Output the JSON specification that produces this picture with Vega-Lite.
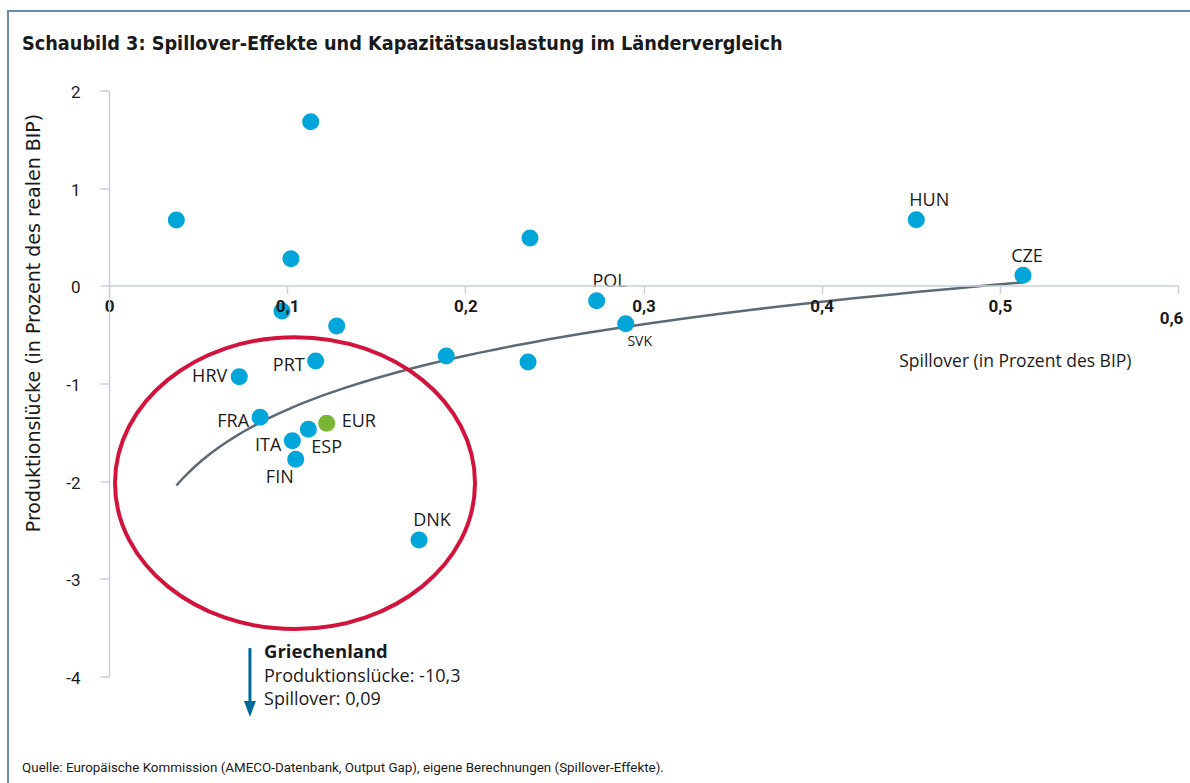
{
  "$schema": "https://vega.github.io/schema/vega-lite/v6.json",
  "width": 1069,
  "height": 586,
  "autosize": {"type": "none"},
  "padding": {"left": 109, "top": 90.5, "right": 12, "bottom": 106.5},
  "background": "white",
  "config": {"view": {"stroke": null}, "font": "Roboto"},
  "title": {
    "text": "Schaubild 3: Spillover-Effekte und Kapazitätsauslastung im Ländervergleich",
    "anchor": "start",
    "frame": "group",
    "dx": -87,
    "dy": 21,
    "offset": -39,
    "baseline": "alphabetic",
    "font": "DejaVu Sans Condensed, Roboto",
    "fontSize": 19.7,
    "fontWeight": "bold",
    "color": "#1a1a1a"
  },
  "datasets": {
    "laender": [
      {"land": "", "x": 0.0378, "y": 0.674},
      {"land": "", "x": 0.1132, "y": 1.681},
      {"land": "", "x": 0.1021, "y": 0.278},
      {"land": "", "x": 0.0971, "y": -0.258},
      {"land": "", "x": 0.1278, "y": -0.411},
      {"land": "", "x": 0.2363, "y": 0.49},
      {"land": "", "x": 0.1893, "y": -0.718},
      {"land": "", "x": 0.2352, "y": -0.78},
      {"land": "POL", "x": 0.2737, "y": -0.152},
      {"land": "SVK", "x": 0.29, "y": -0.388},
      {"land": "HUN", "x": 0.4531, "y": 0.677},
      {"land": "CZE", "x": 0.513, "y": 0.108},
      {"land": "HRV", "x": 0.0731, "y": -0.93},
      {"land": "PRT", "x": 0.116, "y": -0.77},
      {"land": "FRA", "x": 0.0848, "y": -1.346},
      {"land": "EUR", "x": 0.1222, "y": -1.407},
      {"land": "ESP", "x": 0.1119, "y": -1.469},
      {"land": "ITA", "x": 0.1029, "y": -1.586},
      {"land": "FIN", "x": 0.1048, "y": -1.776},
      {"land": "DNK", "x": 0.174, "y": -2.602},
      {"land": "GRC", "x": 0.09, "y": -10.3}
    ]
  },
  "layer": [
    {
      "data": {"values": [{"x": -0.0567, "x2": 0.75, "y": 2.814, "y2": -6}]},
      "mark": {"type": "rect", "fillOpacity": 0, "stroke": "#6b8aa5", "strokeWidth": 2, "clip": false},
      "encoding": {
        "x": {"field": "x", "type": "quantitative", "scale": {"domain": [0, 0.6], "nice": false, "zero": false}},
        "x2": {"field": "x2"},
        "y": {"field": "y", "type": "quantitative", "scale": {"domain": [-4, 2], "nice": false, "zero": false}},
        "y2": {"field": "y2"}
      }
    },
    {
      "data": {"name": "laender"},
      "transform": [
        {"filter": "datum.land != 'EUR'"},
        {"regression": "y", "on": "x", "method": "log"}
      ],
      "mark": {"type": "line", "stroke": "#5d6a74", "strokeWidth": 2.5},
      "encoding": {
        "x": {"field": "x", "type": "quantitative"},
        "y": {"field": "y", "type": "quantitative"}
      }
    },
    {
      "data": {"values": [{"x": 0.1044, "y": -2.02}]},
      "mark": {"type": "point", "shape": "M-1,0A1,0.811,0,1,1,1,0A1,0.811,0,1,1,-1,0Z", "size": 129600, "filled": false, "color": "#d2143c", "strokeWidth": 4, "opacity": 1, "clip": false},
      "encoding": {
        "x": {"field": "x", "type": "quantitative"},
        "y": {"field": "y", "type": "quantitative"}
      }
    },
    {
      "data": {"name": "laender"},
      "transform": [{"filter": "datum.land != 'GRC'"}],
      "mark": {"type": "circle", "size": 290, "opacity": 1},
      "encoding": {
        "x": {
          "field": "x", "type": "quantitative",
          "axis": {
            "orient": "bottom",
            "offset": -391,
            "values": [0, 0.1, 0.2, 0.3, 0.4, 0.5, 0.6],
            "labelExpr": "replace(format(datum.value, '.1~f'), '.', ',')",
            "grid": false,
            "zindex": 1,
            "domainColor": "#c9d0d7",
            "domainWidth": 1.5,
            "tickColor": "#c9d0d7",
            "tickWidth": 1.5,
            "tickSize": 8,
            "labelFontSize": 17,
            "labelFontWeight": "bold",
            "labelColor": "#1a1a1a",
            "labelFlush": false,
            "labelOverlap": false,
            "labelBaseline": "top",
            "labelPadding": {"condition": {"test": "datum.value == 0.6", "value": 17}, "value": 5},
            "labelOffset": {"condition": {"test": "datum.value == 0.6", "value": -7}, "value": 0},
            "title": "Spillover (in Prozent des BIP)",
            "titleFont": "Open Sans",
            "titleFontSize": 17.5,
            "titleFontWeight": "normal",
            "titleColor": "#1a1a1a",
            "titleX": 1022,
            "titleY": 76,
            "titleAlign": "right",
            "titleBaseline": "middle",
            "titleAnchor": null
          }
        },
        "y": {
          "field": "y", "type": "quantitative",
          "axis": {
            "orient": "left",
            "values": [-4, -3, -2, -1, 0, 1, 2],
            "labelExpr": "'' + datum.value",
            "grid": false,
            "zindex": 1,
            "domainColor": "#c9d0d7",
            "domainWidth": 1.5,
            "tickColor": "#c9d0d7",
            "tickWidth": 1.5,
            "tickSize": 9,
            "labelFontSize": 17,
            "labelColor": "#1a1a1a",
            "labelPadding": 20,
            "labelOffset": 2,
            "title": "Produktionslücke (in Prozent des realen BIP)",
            "titleFont": "DejaVu Sans",
            "titleFontSize": 19,
            "titleFontWeight": "normal",
            "titleColor": "#1a1a1a",
            "titleX": -76,
            "titleY": 232,
            "titleAngle": -90,
            "titleAlign": "center",
            "titleBaseline": "middle",
            "titleAnchor": null
          }
        },
        "color": {"condition": {"test": "datum.land == 'EUR'", "value": "#7ab535"}, "value": "#00a6d9"}
      }
    },
    {
      "data": {"name": "laender"},
      "transform": [{"filter": {"field": "land", "oneOf": ["HUN", "POL", "DNK"]}}],
      "mark": {"type": "text", "font": "Open Sans", "fontSize": 18, "color": "#1a1a1a", "align": "center", "baseline": "middle", "dx": 13, "dy": -19},
      "encoding": {"x": {"field": "x", "type": "quantitative"}, "y": {"field": "y", "type": "quantitative"}, "text": {"field": "land"}}
    },
    {
      "data": {"name": "laender"},
      "transform": [{"filter": {"field": "land", "oneOf": ["CZE"]}}],
      "mark": {"type": "text", "font": "Open Sans", "fontSize": 18, "color": "#1a1a1a", "align": "center", "baseline": "middle", "dx": 4, "dy": -18},
      "encoding": {"x": {"field": "x", "type": "quantitative"}, "y": {"field": "y", "type": "quantitative"}, "text": {"field": "land"}}
    },
    {
      "data": {"name": "laender"},
      "transform": [{"filter": {"field": "land", "oneOf": ["SVK"]}}],
      "mark": {"type": "text", "font": "Open Sans", "fontSize": 14, "color": "#1a1a1a", "align": "center", "baseline": "middle", "dx": 14, "dy": 18},
      "encoding": {"x": {"field": "x", "type": "quantitative"}, "y": {"field": "y", "type": "quantitative"}, "text": {"field": "land"}}
    },
    {
      "data": {"name": "laender"},
      "transform": [{"filter": {"field": "land", "oneOf": ["HRV"]}}],
      "mark": {"type": "text", "font": "Open Sans", "fontSize": 18, "color": "#1a1a1a", "align": "right", "baseline": "middle", "dx": -12, "dy": 0},
      "encoding": {"x": {"field": "x", "type": "quantitative"}, "y": {"field": "y", "type": "quantitative"}, "text": {"field": "land"}}
    },
    {
      "data": {"name": "laender"},
      "transform": [{"filter": {"field": "land", "oneOf": ["PRT", "FRA", "ITA"]}}],
      "mark": {"type": "text", "font": "Open Sans", "fontSize": 18, "color": "#1a1a1a", "align": "right", "baseline": "middle", "dx": -11, "dy": 5},
      "encoding": {"x": {"field": "x", "type": "quantitative"}, "y": {"field": "y", "type": "quantitative"}, "text": {"field": "land"}}
    },
    {
      "data": {"name": "laender"},
      "transform": [{"filter": {"field": "land", "oneOf": ["FIN"]}}],
      "mark": {"type": "text", "font": "Open Sans", "fontSize": 18, "color": "#1a1a1a", "align": "right", "baseline": "middle", "dx": -2, "dy": 19},
      "encoding": {"x": {"field": "x", "type": "quantitative"}, "y": {"field": "y", "type": "quantitative"}, "text": {"field": "land"}}
    },
    {
      "data": {"name": "laender"},
      "transform": [{"filter": {"field": "land", "oneOf": ["EUR"]}}],
      "mark": {"type": "text", "font": "Open Sans", "fontSize": 18, "color": "#1a1a1a", "align": "left", "baseline": "middle", "dx": 15, "dy": -1},
      "encoding": {"x": {"field": "x", "type": "quantitative"}, "y": {"field": "y", "type": "quantitative"}, "text": {"field": "land"}}
    },
    {
      "data": {"name": "laender"},
      "transform": [{"filter": {"field": "land", "oneOf": ["ESP"]}}],
      "mark": {"type": "text", "font": "Open Sans", "fontSize": 18, "color": "#1a1a1a", "align": "left", "baseline": "middle", "dx": 3, "dy": 19},
      "encoding": {"x": {"field": "x", "type": "quantitative"}, "y": {"field": "y", "type": "quantitative"}, "text": {"field": "land"}}
    },
    {
      "data": {"values": [{"x": 0.0791, "y": -3.709, "y2": -4.29}]},
      "mark": {"type": "rule", "color": "#00699c", "strokeWidth": 3, "clip": false},
      "encoding": {"x": {"field": "x", "type": "quantitative"}, "y": {"field": "y", "type": "quantitative"}, "y2": {"field": "y2"}}
    },
    {
      "data": {"values": [{"x": 0.0791, "y": -4.333}]},
      "mark": {"type": "point", "shape": "M-0.75,-1L0.75,-1L0,1Z", "size": 256, "filled": true, "color": "#00699c", "opacity": 1, "clip": false},
      "encoding": {"x": {"field": "x", "type": "quantitative"}, "y": {"field": "y", "type": "quantitative"}}
    },
    {
      "data": {"values": [{"x": 0.087, "y": -3.749, "text": "Griechenland"}]},
      "mark": {"type": "text", "font": "Open Sans", "fontSize": 18.5, "fontWeight": "bold", "color": "#1a1a1a", "align": "left", "baseline": "middle", "clip": false},
      "encoding": {"x": {"field": "x", "type": "quantitative"}, "y": {"field": "y", "type": "quantitative"}, "text": {"field": "text"}}
    },
    {
      "data": {"values": [
        {"x": 0.087, "y": -4.005, "text": "Produktionslücke: -10,3|Spillover: 0,09"}
      ]},
      "mark": {"type": "text", "font": "Open Sans", "fontSize": 18, "lineBreak": "|", "lineHeight": 23, "color": "#1a1a1a", "align": "left", "baseline": "middle", "clip": false},
      "encoding": {"x": {"field": "x", "type": "quantitative"}, "y": {"field": "y", "type": "quantitative"}, "text": {"field": "text"}}
    },
    {
      "data": {"values": [{"x": -0.0488, "y": -4.937, "text": "Quelle: Europäische Kommission (AMECO-Datenbank, Output Gap), eigene Berechnungen (Spillover-Effekte)."}]},
      "mark": {"type": "text", "fontSize": 13.4, "color": "#1a1a1a", "align": "left", "baseline": "middle", "clip": false},
      "encoding": {"x": {"field": "x", "type": "quantitative"}, "y": {"field": "y", "type": "quantitative"}, "text": {"field": "text"}}
    }
  ]
}
